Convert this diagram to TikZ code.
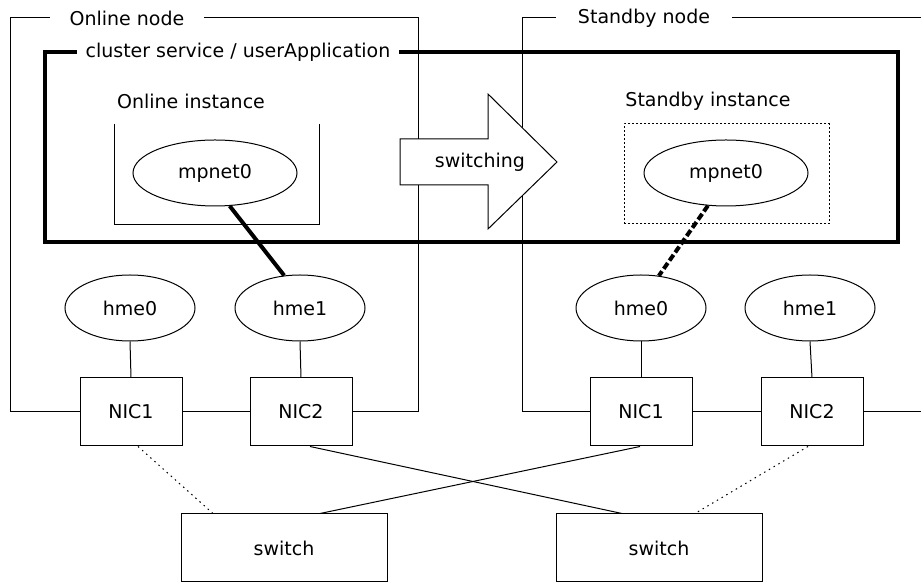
\documentclass[tikz,border=0pt]{standalone}
\usepackage{fontspec}
\setmainfont{DejaVu Sans}
\usepackage{tikz}
\usetikzlibrary{calc,shapes.geometric}

\tikzset{
    nic/.style={draw, fill=white, minimum width=102pt, minimum height=68pt, inner sep=0pt},
    iface/.style={draw, ellipse, fill=white, minimum width=130pt, minimum height=66pt, inner sep=0pt},
    mpnet/.style={draw, ellipse, fill=white, minimum width=164pt, minimum height=66pt, inner sep=0pt},
    hub/.style={draw, fill=white, minimum width=206pt, minimum height=68pt, inner sep=0pt},
    framelabel/.style={fill=white, inner ysep=2pt},
    trunk/.style={line width=4pt},
    spare/.style={dash pattern=on 1.5pt off 4pt},
}

\begin{document}
\begin{tikzpicture}[x=1pt, y=1pt, line width=1pt, black, font=\fontsize{19}{22}\selectfont]

    \useasboundingbox (0,0) rectangle (921,583);

    %coordinates
    \coordinate (OBL) at (10,171); % online node, bottom left
    \coordinate (OTL) at (10,565); % online node, top left
    \coordinate (OTR) at (418,565); % online node, top right
    \coordinate (OBR) at (418,171); % online node, bottom right
    \coordinate (SBL) at (522,171); % standby node, bottom left
    \coordinate (STL) at (522,565); % standby node, top left
    \coordinate (STR) at (921,565); % standby node, runs off
    \coordinate (SBR) at (921,171); % standby node, runs off

    %cards
    \node[nic] (nic1L) at (131,171) {NIC1};
    \node[nic] (nic2L) at (301,171) {NIC2};
    \node[nic] (nic1R) at (641,171) {NIC1};
    \node[nic] (nic2R) at (812,171) {NIC2};

    %node frames
    \draw (nic1L.west) -- (OBL) -- (OTL) -- (OTR) -- (OBR) -- (nic2L.east);
    \draw (nic1R.west) -- (SBL) -- (STL) -- (STR);
    \draw (nic2R.east) -- (SBR);

    %cluster service
    \draw[line width=3.5pt] (45,341) rectangle (898,531);
    \draw (114,459) -- (114,358) -- (319,358) -- (319,459);
    \draw[dash pattern=on 2pt off 2pt] (624,359) rectangle (829,459);

    %interfaces
    \node[mpnet] (mpL) at (215,410) {mpnet0};
    \node[mpnet] (mpR) at (726,410) {mpnet0};
    \node[iface] (hme0L) at (130,275) {hme0};
    \node[iface] (hme1L) at (300,275) {hme1};
    \node[iface] (hme0R) at (641,275) {hme0};
    \node[iface] (hme1R) at (810,275) {hme1};

    %switches
    \node[hub] (swL) at (284,35) {switch};
    \node[hub] (swR) at (659,35) {switch};

    %links
    \draw[trunk] (mpL.-66) -- (hme1L.116);
    \draw[trunk, dash pattern=on 7pt off 3pt] (mpR.-119) -- (hme0R.61);
    \foreach \a/\b in {hme0L/nic1L,hme1L/nic2L,hme0R/nic1R,hme1R/nic2R}
    \draw (\a.south) -- (\b.north);
    \draw (nic1L.east) -- (nic2L.west);
    \draw (nic1R.east) -- (nic2R.west);
    \draw ([xshift=9pt]nic2L.south) -- ([xshift=-37pt]swR.north);
    \draw ([xshift=-1pt]nic1R.south) -- ([xshift=36pt]swL.north);
    \draw[spare] ([xshift=7pt]nic1L.south) -- ([xshift=-71pt]swL.north);
    \draw[spare] ([xshift=-4pt]nic2R.south) -- ([xshift=36pt]swR.north);

    %switching arrow
    \draw[fill=white] (400,444) -- (488,444) -- (488,489) -- (557,421)
        -- (488,354) -- (488,398) -- (400,398) -- cycle;
    \node (switching) at (480,421) {switching};

    %labels
    \node[framelabel, inner xsep=20pt] (onlineL) at (127,565) {Online node};
    \node[framelabel, inner xsep=22pt] (standbyL) at (644,565) {Standby node};
    \node[framelabel, inner xsep=9pt] (clusterL) at (238,531) {cluster service / userApplication};
    \node (onlineI) at (191,482) {Online instance};
    \node (standbyI) at (708,482) {Standby instance};

\end{tikzpicture}
\end{document}
